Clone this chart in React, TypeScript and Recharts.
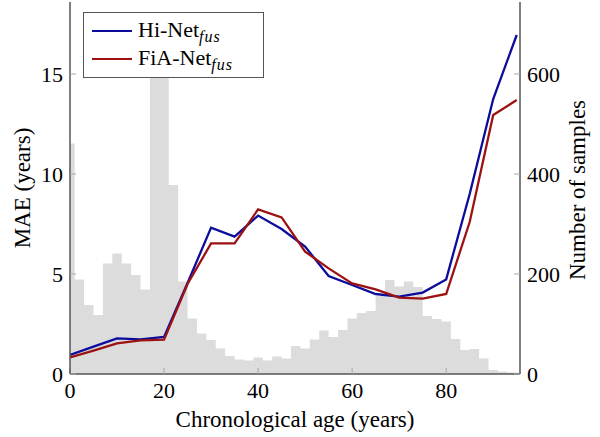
import React from 'react';
import { ComposedChart, Area, Line, XAxis, YAxis, Legend } from 'recharts';

// MAE per 5-year age group
const ages = [0, 5, 10, 15, 20, 25, 30, 35, 40, 45, 50, 55, 60, 65, 70, 75, 80, 85, 90, 95];
const hiNet = [0.95, 1.37, 1.78, 1.73, 1.85, 4.55, 7.32, 6.87, 7.92, 7.25, 6.37, 4.9, 4.45, 4.0, 3.87, 4.07, 4.73, 9.0, 13.75, 16.95];
const fiaNet = [0.83, 1.17, 1.53, 1.68, 1.72, 4.5, 6.53, 6.53, 8.23, 7.83, 6.12, 5.28, 4.53, 4.23, 3.82, 3.77, 4.0, 7.6, 12.95, 13.7];

// sample histogram, 2-year bins (centres)
const binCenters = [0, 2, 4, 6, 8, 10, 12, 14, 16, 18, 20, 22, 24, 26, 28, 30, 32, 34, 36, 38, 40, 42, 44, 46, 48, 50, 52, 54, 56, 58, 60, 62, 64, 66, 68, 70, 72, 74, 76, 78, 80, 82, 84, 86, 88, 90, 92, 94];
const binCounts = [461, 189, 138, 118, 221, 241, 221, 198, 169, 667, 667, 378, 185, 111, 81, 68, 51, 36, 29, 27, 33, 27, 35, 31, 56, 51, 69, 87, 74, 88, 111, 122, 126, 156, 188, 175, 185, 174, 116, 110, 105, 70, 48, 50, 31, 8, 5, 3];

const xTicks = [0, 20, 40, 60, 80];
const maeTicks = [0, 5, 10, 15];
const countTicks = [0, 200, 400, 600];

const X_MAX = 95.7;
const FONT = '"Liberation Serif", "DejaVu Serif", serif';
const FRAME = '#555';
const TICK = '#a8a8a8';

const series = [
  { key: 'hi', base: 'Hi-Net', sub: 'fus', color: '#0c0c9c' },
  { key: 'fia', base: 'FiA-Net', sub: 'fus', color: '#9c1212' },
];

const lineData = ages.map((x, i) => ({ x, hi: hiNet[i], fia: fiaNet[i] }));
const histData = binCenters.map((c, i) => ({ x: Math.max(0, c - 1), n: binCounts[i] }));
histData.push({ x: X_MAX, n: binCounts[binCounts.length - 1] });

const tickStyle = { fill: '#000', fontSize: 22, fontFamily: FONT };

const title = (x: number, y: number, text: string, angle = 0) => () => (
  <text
    x={x}
    y={y}
    textAnchor="middle"
    dominantBaseline="central"
    transform={angle ? `rotate(${angle} ${x} ${y})` : undefined}
    style={{ fontFamily: FONT, fontSize: 23, fill: '#000' }}
  >
    {text}
  </text>
);

const renderLegend = () => (
  <div
    style={{
      boxSizing: 'border-box',
      width: 181,
      height: 66,
      border: `1.5px solid ${FRAME}`,
      background: '#fff',
      padding: '4px 0 0 8px',
      fontFamily: FONT,
      fontSize: 22,
      lineHeight: '28px',
      textAlign: 'left',
    }}
  >
    {series.map((s) => (
      <div key={s.key} style={{ display: 'flex', alignItems: 'center', height: 28 }}>
        <span style={{ display: 'inline-block', width: 40, borderTop: `2.5px solid ${s.color}`, marginRight: 6 }} />
        <span>
          {s.base}
          <i style={{ fontSize: 16, position: 'relative', top: 5, letterSpacing: 1 }}>{s.sub}</i>
        </span>
      </div>
    ))}
  </div>
);

export default function App() {
  return (
    <div style={{ position: 'absolute', left: 0, top: 0 }}>
      <ComposedChart width={600} height={437} margin={{ top: 2, right: 0, bottom: 0, left: 0 }}>
        <XAxis
          xAxisId="b"
          type="number"
          dataKey="x"
          domain={[0, X_MAX]}
          ticks={xTicks}
          allowDataOverflow
          height={63}
          tickSize={-6}
          tickMargin={14}
          tick={tickStyle}
          axisLine={{ stroke: FRAME, strokeWidth: 1.5 }}
          tickLine={{ stroke: TICK }}
          label={{ content: title(295, 419, 'Chronological age (years)') }}
        />
        <XAxis
          xAxisId="t"
          orientation="top"
          type="number"
          dataKey="x"
          domain={[0, X_MAX]}
          ticks={xTicks}
          allowDataOverflow
          height={0}
          tickSize={-6}
          tick={false}
          axisLine={{ stroke: FRAME, strokeWidth: 1.5 }}
          tickLine={{ stroke: TICK }}
        />
        <YAxis
          yAxisId="mae"
          domain={[0, 18.6]}
          ticks={maeTicks}
          allowDataOverflow
          width={70}
          tickSize={-6}
          tickMargin={13}
          tick={tickStyle}
          axisLine={{ stroke: FRAME, strokeWidth: 1.5 }}
          tickLine={{ stroke: TICK }}
          label={{ content: title(22, 188, 'MAE (years)', -90) }}
        />
        <YAxis
          yAxisId="n"
          orientation="right"
          domain={[0, 744]}
          ticks={countTicks}
          allowDataOverflow
          width={80}
          tickSize={-6}
          tickMargin={13}
          tick={tickStyle}
          axisLine={{ stroke: FRAME, strokeWidth: 1.5 }}
          tickLine={{ stroke: TICK }}
          label={{ content: title(577, 190, 'Number of samples', -90) }}
        />
        <Area
          data={histData}
          xAxisId="b"
          yAxisId="n"
          dataKey="n"
          type="stepAfter"
          fill="#dcdcdc"
          fillOpacity={1}
          stroke="none"
          isAnimationActive={false}
          legendType="none"
        />
        {series.map((s) => (
          <Line
            key={s.key}
            data={lineData}
            xAxisId="b"
            yAxisId="mae"
            dataKey={s.key}
            type="linear"
            stroke={s.color}
            strokeWidth={2.3}
            dot={false}
            isAnimationActive={false}
          />
        ))}
        <Legend
          layout="horizontal"
          verticalAlign="middle"
          align="center"
          content={renderLegend}
          wrapperStyle={{ position: 'absolute', left: 83, top: 12, width: 181, height: 66 }}
        />
      </ComposedChart>
    </div>
  );
}
